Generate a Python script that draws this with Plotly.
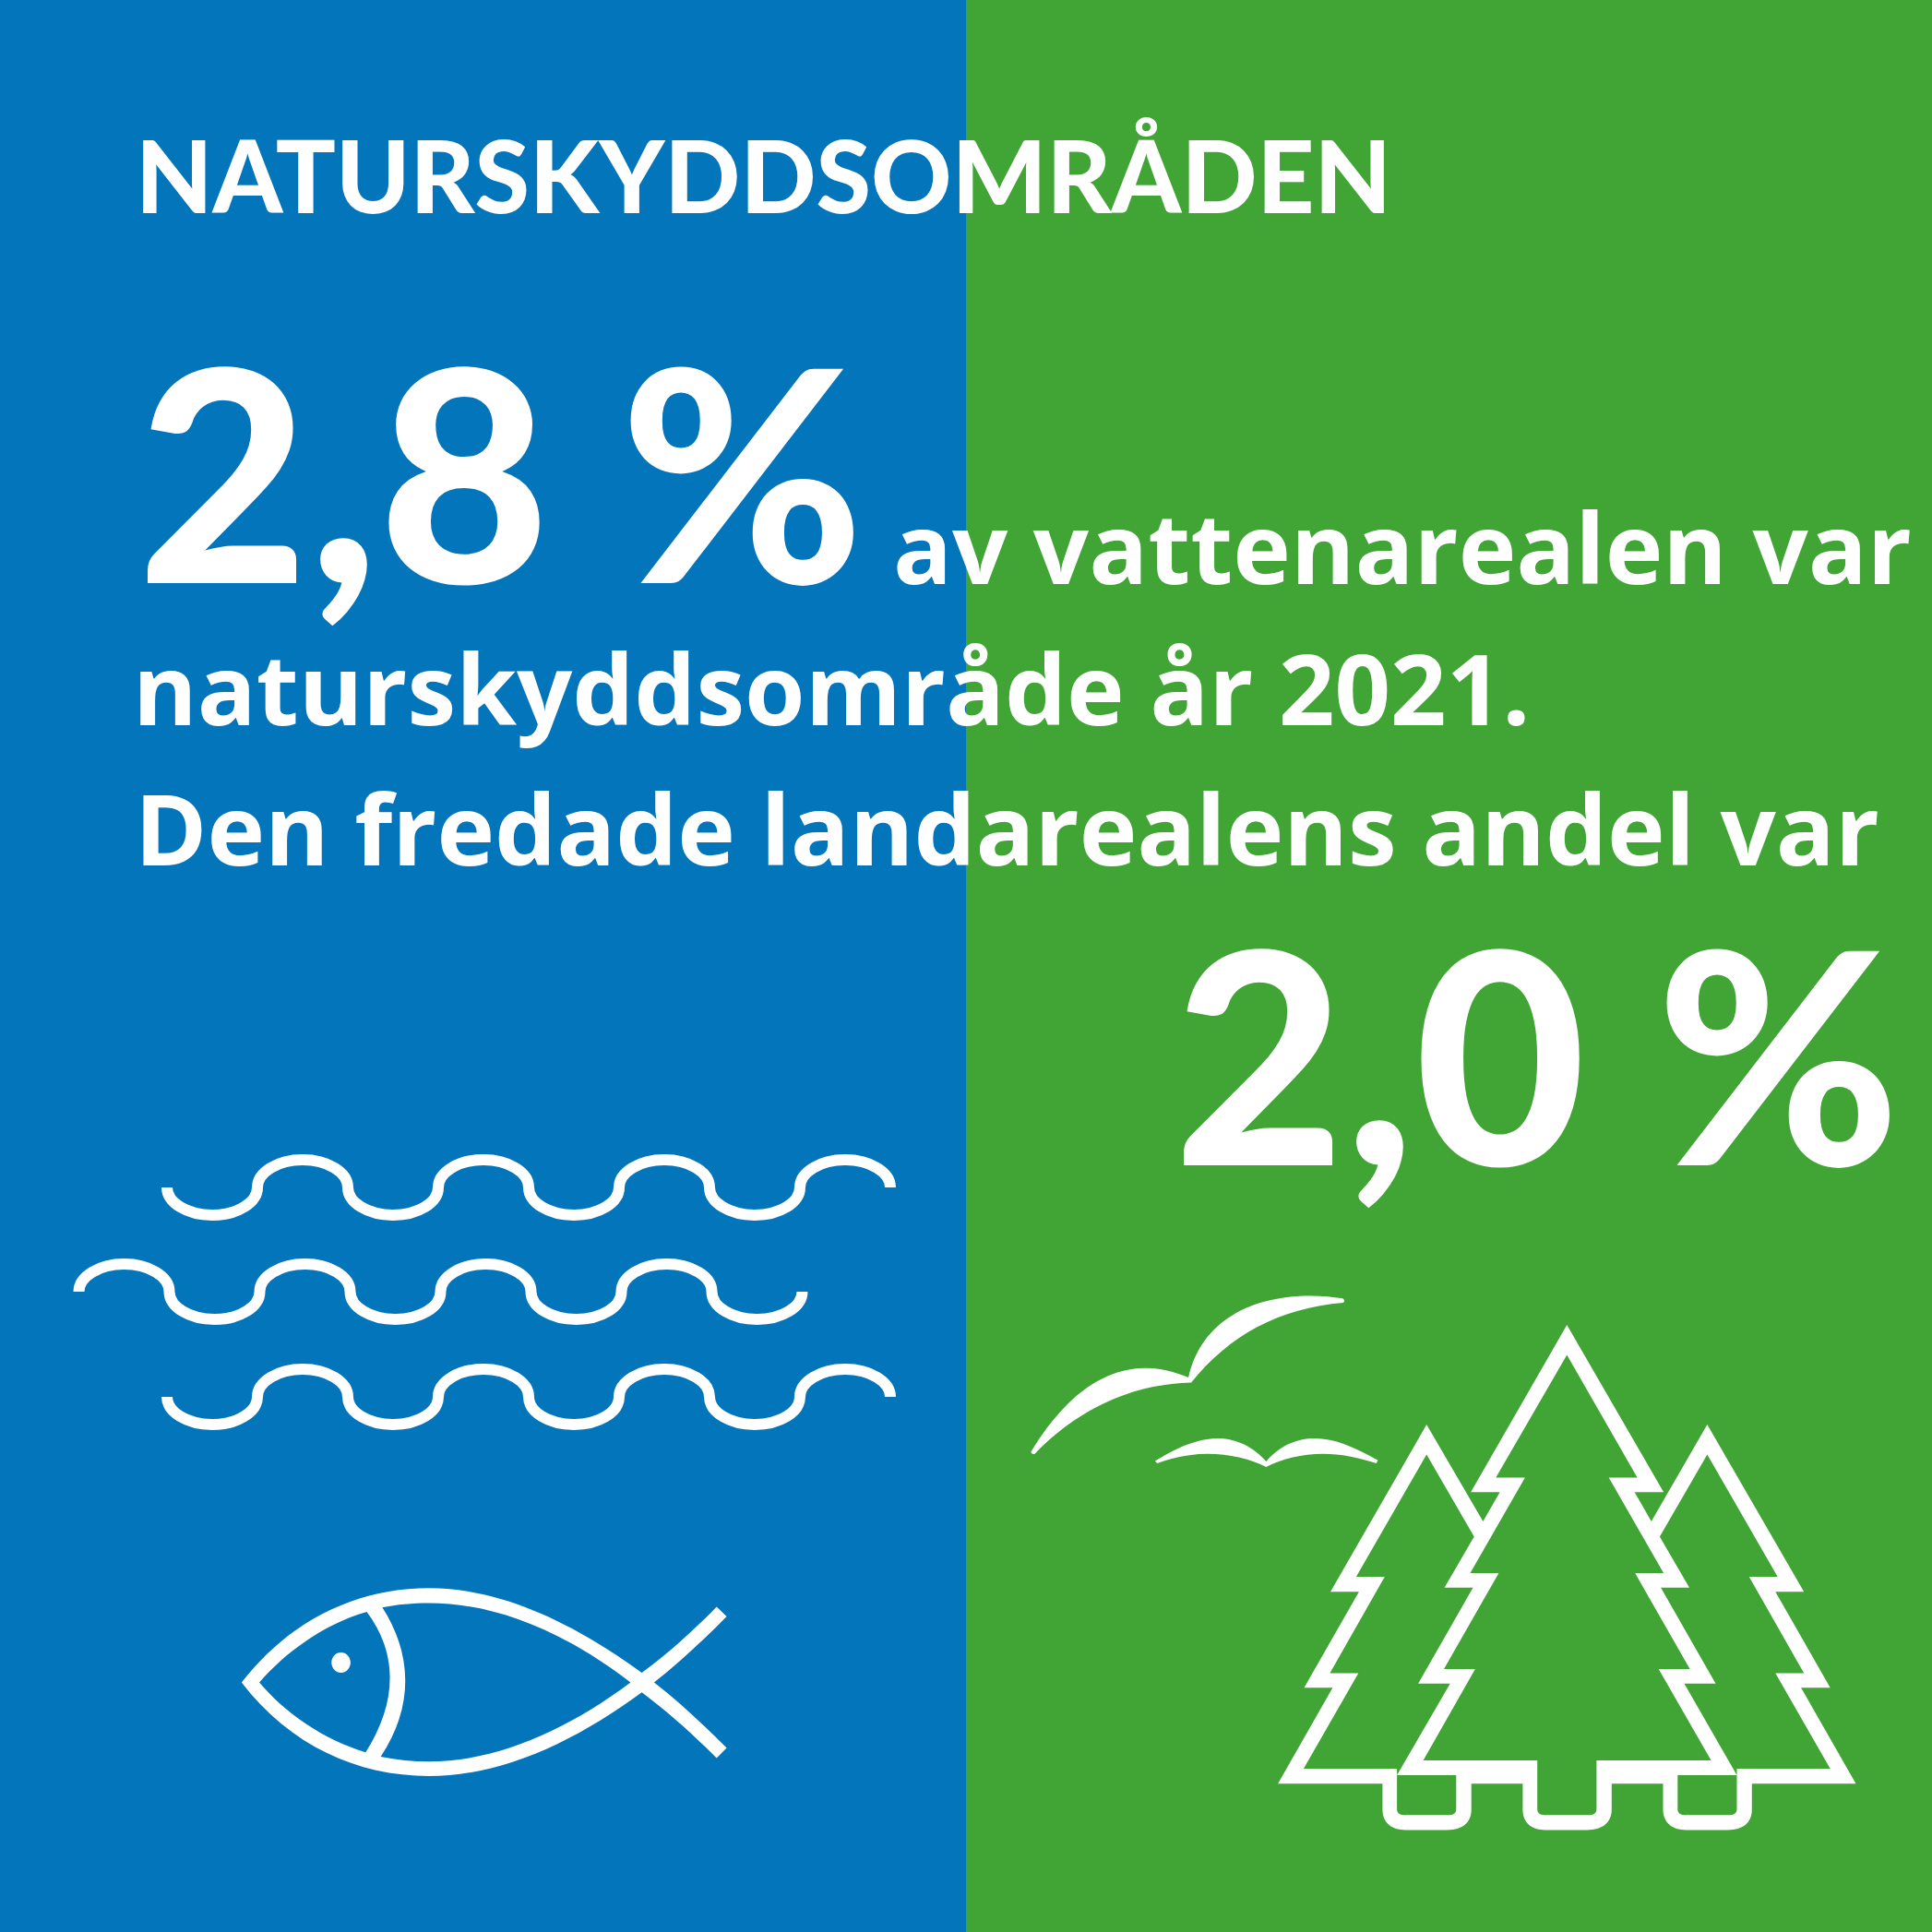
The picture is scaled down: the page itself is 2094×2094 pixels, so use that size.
import re
import plotly.graph_objects as go

# values and texts from the picture
title = 'NATURSKYDDSOMRÅDEN'
water_share = 2.8
land_share = 2.0
year = 2021
line_1 = 'av vattenarealen var'
line_2 = 'naturskyddsområde år %d.' % year
line_3 = 'Den fredade landarealens andel var'

W = 2094
BLUE = '#0375BA'
GREEN = '#40A535'

def pct(v):
    return ('%.1f' % v).replace('.', ',') + ' %'

def crop(ox, oy, w, h, d):
    sx, sy = w / 1568, h / 1568
    out, i = [], 0
    for tok in re.findall(r'[A-Za-z]|-?[\d.]+', d):
        if tok.isalpha():
            out.append(tok)
        else:
            out.append('%.1f' % (ox + float(tok) * sx if i % 2 == 0 else oy + float(tok) * sy))
            i += 1
    return ' '.join(out)

def poly(pts):
    return 'M ' + ' L '.join('%s %s' % p for p in pts) + ' Z '

def wave(x0, y0, first_down):
    half, amp = 98, 30
    k = 0.5523
    sign = 1 if first_down else -1
    d = 'M %g %g' % (x0, y0)
    x = x0
    for i in range(8):
        top = y0 + sign * amp
        d += ' C %g %g %g %g %g %g' % (x, y0 + sign * amp * k, x + half * (0.5 - k / 2), top, x + half / 2, top)
        d += ' C %g %g %g %g %g %g' % (x + half * (0.5 + k / 2), top, x + half, y0 + sign * amp * k, x + half, y0)
        x += half
        sign = -sign
    return d

fig = go.Figure()
fig.add_shape(type='rect', xref='paper', yref='paper', x0=0, x1=0.5, y0=0, y1=1, fillcolor=BLUE, line_width=0, layer='below')
fig.add_shape(type='rect', xref='paper', yref='paper', x0=0.5, x1=1, y0=0, y1=1, fillcolor=GREEN, line_width=0, layer='below')

######WAVES
for x0, y0, down in [(181, 1287, True), (85.5, 1400, False), (181, 1514, True)]:
    fig.add_shape(type='path', path=wave(x0, y0, down), line=dict(color='white', width=12), fillcolor='rgba(0,0,0,0)')

######FISH
fish = ('M 333 1262 C 420 1120 540 1048 668 1048 C 800 1048 930 1130 1049 1240 '
        'C 1100 1192 1145 1140 1183 1090 L 1201 1112 C 1160 1165 1115 1218 1071 1262 '
        'C 1115 1305 1160 1358 1201 1410 L 1183 1433 C 1145 1385 1100 1332 1049 1284 '
        'C 930 1395 800 1474 668 1474 C 540 1474 420 1405 333 1262 Z '
        'M 365 1262 C 410 1195 480 1130 557 1102 C 615 1200 610 1310 555 1420 C 480 1392 410 1330 365 1262 Z '
        'M 585 1092 C 640 1200 640 1320 582 1430 C 610 1437 640 1441 668 1441 C 790 1441 915 1370 1029 1262 '
        'C 915 1150 790 1082 668 1082 C 640 1082 610 1085 585 1092 Z '
        'M 494 1217 C 494 1204 502 1194 511 1194 C 520 1194 528 1204 528 1217 C 528 1230 520 1240 511 1240 C 502 1240 494 1230 494 1217 Z')
fig.add_shape(type='path', path=crop(60, 1220, 950, 750, fish), fillcolor='white', line_width=0)

######BIRDS
bird_1 = ('M 45 490 C 100 350 170 260 250 260 C 280 260 305 272 327 286 C 350 130 440 62 545 62 '
          'C 565 62 585 65 603 69 Q 608 75 604 81 C 490 95 400 170 332 300 C 230 302 130 370 52 495 Q 46 497 45 490 Z')
bird_2 = ('M 267 515 C 310 475 345 453 380 453 C 415 453 445 480 466 516 C 487 480 515 453 552 453 '
          'C 590 453 625 478 666 513 L 663 521 C 630 505 600 495 568 495 C 530 495 495 508 466 531 '
          'C 437 508 400 495 362 495 C 330 495 300 505 271 521 Z')
for b in [bird_1, bird_2]:
    fig.add_shape(type='path', path=crop(1090, 1380, 950, 620, b), fillcolor='white', line_width=0)

######TREES
trees = ('M 753 415 L 581 873 L 632 873 L 534 1136 L 585 1136 L 487 1399 L 674 1399 L 674 1470 '
         'C 674 1505 690 1526 715 1526 L 790 1526 C 818 1526 833 1505 833 1470 L 833 1399 L 925 1399 L 925 1470 '
         'C 925 1505 940 1526 965 1526 L 1040 1526 C 1068 1526 1084 1505 1084 1470 L 1084 1399 L 1176 1399 L 1176 1470 '
         'C 1176 1505 1192 1526 1217 1526 L 1292 1526 C 1320 1526 1335 1505 1335 1470 L 1335 1399 L 1521 1399 '
         'L 1423 1136 L 1475 1136 L 1377 873 L 1428 873 L 1255 415 L 1155 680 L 1125 600 L 1177 600 L 1004 142 '
         'L 832 600 L 884 600 L 854 680 Z ')
trees += poly([(753, 497), (838, 722), (785, 862), (836, 862), (738, 1125), (795, 1125), (700, 1376), (700, 1358),
               (533, 1358), (631, 1096), (580, 1096), (678, 832), (627, 832)])
trees += poly([(1255, 497), (1381, 832), (1330, 832), (1428, 1096), (1377, 1096), (1475, 1358), (1308, 1358), (1308, 1376),
               (1214, 1125), (1270, 1125), (1172, 862), (1223, 862), (1170, 722)])
trees += ('M 1004 224 L 1130 560 L 1079 560 L 1177 822 L 1126 822 L 1224 1085 L 1168 1085 L 1262 1335 L 1057 1335 L 1057 1468 '
          'C 1057 1480 1052 1485 1045 1485 L 963 1485 C 956 1485 951 1480 951 1468 L 951 1335 L 747 1335 L 840 1085 L 784 1085 '
          'L 882 822 L 831 822 L 929 560 L 877 560 Z ')
trees += 'M 700 1376 L 806 1376 L 806 1468 C 806 1480 801 1485 795 1485 L 712 1485 C 705 1485 700 1480 700 1468 Z '
trees += 'M 1202 1376 L 1308 1376 L 1308 1468 C 1308 1480 1303 1485 1296 1485 L 1214 1485 C 1207 1485 1202 1480 1202 1468 Z'
fig.add_shape(type='path', path=crop(1090, 1380, 950, 620, trees), fillcolor='white', line_width=0)

######TEXT
def put(txt, x, base, size, family='Lato', weight=900, off=0.211):
    fig.add_annotation(x=x, y=base + size * off, text=txt, xref='x', yref='y', showarrow=False,
                       xanchor='left', yanchor='bottom', borderpad=0, borderwidth=0,
                       font=dict(family=family, size=size, color='white', weight=weight))

put(title, 147, 231, 108)
put(pct(water_share), 149, 632, 320)
put(line_1, 968, 632, 106, 'Open Sans', 700, 0.30)
put(line_2, 144, 785, 106, 'Open Sans', 700, 0.30)
put(line_3, 146, 937, 106, 'Open Sans', 700, 0.30)
put(pct(land_share), 1272, 1263, 320)

fig.update_xaxes(range=[0, W], visible=False, fixedrange=True)
fig.update_yaxes(range=[W, 0], visible=False, fixedrange=True)
fig.update_layout(width=W, height=W, margin=dict(l=0, r=0, t=0, b=0), showlegend=False,
                  paper_bgcolor=BLUE, plot_bgcolor='rgba(0,0,0,0)')
fig.write_html('out.html', config={'displayModeBar': False},
               post_script="document.body.style.margin='0';document.body.style.overflow='hidden';")
